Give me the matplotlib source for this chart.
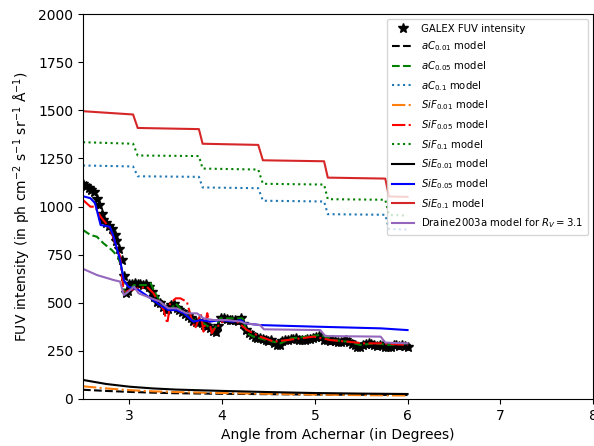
import matplotlib
matplotlib.use("Agg")
import matplotlib.pyplot as plt

# ---- GALEX observations ----
galex_x = [2.50, 2.53, 2.56, 2.59, 2.62, 2.65, 2.67, 2.70, 2.72, 2.75, 2.78, 2.81, 2.84, 2.86,
           2.89, 2.92, 2.94, 2.96, 2.98, 3.00, 3.03, 3.06, 3.09, 3.12, 3.15, 3.18, 3.21, 3.24,
           3.27, 3.30, 3.33, 3.36, 3.39, 3.42, 3.45, 3.48, 3.51, 3.54, 3.57, 3.60, 3.63, 3.66,
           3.69, 3.72, 3.75, 3.78, 3.81, 3.84, 3.87, 3.90, 3.93, 3.96, 3.99, 4.02, 4.05, 4.08,
           4.11, 4.14, 4.17, 4.20, 4.23, 4.26, 4.29, 4.32, 4.35, 4.38, 4.41, 4.44, 4.47, 4.50,
           4.53, 4.56, 4.59, 4.62, 4.65, 4.68, 4.71, 4.74, 4.77, 4.80, 4.83, 4.86, 4.89, 4.92,
           4.95, 4.98, 5.01, 5.04, 5.07, 5.10, 5.13, 5.16, 5.19, 5.22, 5.25, 5.28, 5.31, 5.34,
           5.37, 5.40, 5.43, 5.46, 5.49, 5.52, 5.55, 5.58, 5.61, 5.64, 5.67, 5.70, 5.73, 5.76,
           5.79, 5.82, 5.85, 5.88, 5.91, 5.94, 5.97, 6.00]
galex_y = [1115, 1105, 1095, 1085, 1075, 1040, 1010, 960, 930, 915, 900, 885, 850, 820,
           780, 722, 640, 549, 560, 595, 600, 605, 598, 595, 590, 595, 580, 557,
           530, 505, 497, 480, 460, 470, 490, 492, 475, 460, 450, 440, 430, 420,
           405, 400, 402, 395, 385, 378, 370, 355, 350, 380, 420, 420, 415, 410,
           408, 412, 405, 420, 390, 360, 345, 330, 320, 318, 315, 310, 305, 300,
           306, 290, 282, 280, 300, 308, 305, 312, 310, 315, 308, 304, 306, 310,
           312, 318, 322, 325, 320, 308, 305, 300, 306, 302, 298, 296, 300, 306,
           295, 285, 278, 272, 270, 280, 285, 289, 285, 280, 275, 281, 278, 270,
           268, 272, 278, 280, 275, 281, 274, 272]

# ---- low-abundance models ----
low_x = [2.5, 2.75, 3.0, 3.25, 3.5, 4.0, 4.5, 5.0, 5.5, 6.0]
ac001 = [48, 42, 37, 33, 30, 27, 25, 23, 22, 21]
sif001 = [66, 55, 46, 40, 36, 31, 27, 23, 20, 18]
sie001 = [99, 78, 64, 55, 49, 42, 36, 31, 28, 26]

# ---- 0.05 models ----
ac005_x = [2.50, 2.58, 2.65, 2.72, 2.81, 2.88, 2.92, 2.94, 2.97, 3.05, 3.19, 3.23, 3.28, 3.37,
           3.44, 3.50, 3.59, 3.69, 3.80, 3.91, 3.98, 4.13, 4.22, 4.27, 4.34, 4.48, 4.63, 4.74,
           4.92, 5.06, 5.20, 5.35, 5.49, 5.64, 5.81, 6.00]
ac005_y = [878, 852, 843, 809, 774, 739, 670, 566, 549, 592, 592, 601, 549, 480,
           462, 497, 445, 410, 393, 358, 419, 419, 419, 341, 324, 306, 289, 315,
           324, 333, 306, 298, 281, 289, 281, 289]

sif005_x = [2.50, 2.58, 2.63, 2.69, 2.79, 2.90, 2.94, 3.00, 3.19, 3.26, 3.37, 3.41, 3.44, 3.50,
            3.55, 3.62, 3.68, 3.71, 3.77, 3.80, 3.84, 3.89, 3.93, 3.96, 4.02, 4.16, 4.27, 4.41,
            4.56, 4.70, 4.99, 5.17, 5.35, 5.53, 5.71, 6.00]
sif005_y = [1034, 999, 999, 947, 887, 740, 549, 566, 583, 549, 462, 393, 497, 523,
            523, 505, 400, 367, 445, 350, 446, 342, 376, 380, 410, 402, 358, 324,
            298, 306, 324, 306, 298, 289, 289, 281]

sie005_x = [2.51, 2.58, 2.63, 2.69, 2.79, 2.83, 2.90, 2.94, 2.99, 3.10, 3.23, 3.33, 3.42, 3.51,
            3.59, 3.69, 3.77, 3.87, 3.98, 4.12, 4.20, 4.25, 4.41, 4.99, 5.71, 6.00]
sie005_y = [1052, 1043, 1017, 904, 895, 843, 722, 618, 583, 566, 523, 488, 462, 462,
            445, 402, 410, 402, 410, 402, 410, 393, 384, 376, 367, 358]

# ---- 0.1 models (stepped) ----
step_x = [2.50, 3.04, 3.09, 3.75, 3.79, 4.39, 4.44, 5.10, 5.14, 5.76, 5.80, 6.00]
ac01 = [1213, 1208, 1157, 1154, 1099, 1095, 1030, 1026, 960, 957, 883, 880]
sif01 = [1334, 1326, 1265, 1262, 1197, 1192, 1118, 1114, 1038, 1035, 956, 953]
sie01 = [1495, 1478, 1408, 1402, 1326, 1320, 1240, 1235, 1150, 1145, 1052, 1050]

# ---- Draine 2003a ----
draine_x = [2.51, 2.65, 2.83, 2.90, 2.94, 2.99, 3.05, 3.10, 3.19, 3.33, 3.42, 3.51, 3.62, 3.73,
            3.80, 3.91, 4.05, 4.20, 4.25, 4.41, 4.45, 5.06, 5.11, 5.71, 5.76, 6.00]
draine_y = [674, 644, 618, 610, 540, 558, 584, 549, 532, 506, 471, 471, 445, 445,
            419, 410, 410, 402, 393, 384, 362, 358, 327, 324, 293, 289]

fig = plt.figure(figsize=(5.94, 4.46), dpi=100)
ax = fig.add_axes([83 / 594, 1 - 399 / 446, 510 / 594, 385 / 446])

ax.plot(galex_x, galex_y, 'k*', ls='none', ms=7, label='GALEX FUV intensity')
ax.plot(low_x, ac001, 'k--', label=r'$aC_{0.01}$ model')
ax.plot(ac005_x, ac005_y, 'g--', label=r'$aC_{0.05}$ model')
ax.plot(step_x, ac01, ':', color='C0', label=r'$aC_{0.1}$ model')
ax.plot(low_x, sif001, '-.', color='C1', label=r'$SiF_{0.01}$ model')
ax.plot(sif005_x, sif005_y, 'r-.', label=r'$SiF_{0.05}$ model')
ax.plot(step_x, sif01, 'g:', label=r'$SiF_{0.1}$ model')
ax.plot(low_x, sie001, 'k-', label=r'$SiE_{0.01}$ model')
ax.plot(sie005_x, sie005_y, 'b-', label=r'$SiE_{0.05}$ model')
ax.plot(step_x, sie01, '-', color='tab:red', label=r'$SiE_{0.1}$ model')
ax.plot(draine_x, draine_y, '-', color='C4', label=r'Draine2003a model for $R_V = 3.1$')

ax.set_xlim(2.5, 8)
ax.set_ylim(0, 2000)
ax.set_xlabel('Angle from Achernar (in Degrees)')
ax.set_ylabel('FUV intensity (in ph cm$^{-2}$ s$^{-1}$ sr$^{-1}$ Å$^{-1}$)')
ax.legend(loc='upper right', fontsize=7.3, labelspacing=0.58, handlelength=2.2,
          handletextpad=0.7, borderpad=0.45)

fig.savefig('out.png', dpi=100)
